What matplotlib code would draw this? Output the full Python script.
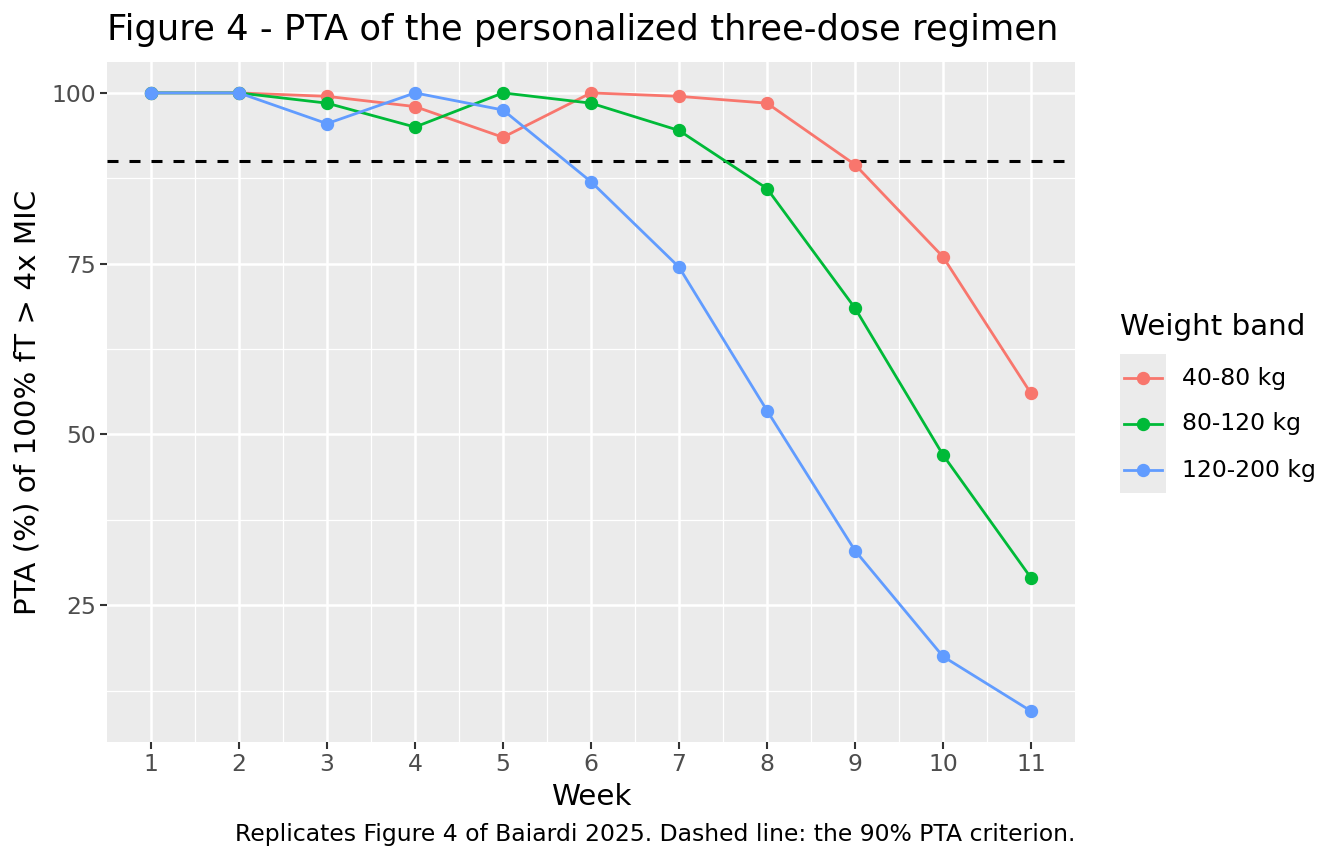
import matplotlib
matplotlib.use("Agg")
import matplotlib.pyplot as plt
from matplotlib.lines import Line2D
from matplotlib.patches import Rectangle
from matplotlib.ticker import MultipleLocator, FixedLocator

weeks = [1, 2, 3, 4, 5, 6, 7, 8, 9, 10, 11]
bands = ["40-80 kg", "80-120 kg", "120-200 kg"]
pta_40_80 = [100, 100, 99.5, 98, 93.5, 100, 99.5, 98.5, 89.5, 76, 56]
pta_80_120 = [100, 100, 98.5, 95, 100, 98.5, 94.5, 86, 68.5, 47, 29]
pta_120_200 = [100, 100, 95.5, 100, 97.5, 87, 74.5, 53.5, 33, 17.5, 9.5]
criterion = 90

COLORS = ["#F8766D", "#00BA38", "#619CFF"]
PANEL = "#EBEBEB"
S = 1.92  # ggplot pt -> matplotlib pt at this size
W, H = 1344, 864


def fx(px):
    return px / W


def fy(py):
    return 1 - py / H


fig = plt.figure(figsize=(W / 100, H / 100), dpi=100)
ax = fig.add_axes([fx(107), fy(742), fx(1075 - 107), (742 - 62) / H])
ax.set_facecolor(PANEL)
for sp in ax.spines.values():
    sp.set_visible(False)

ax.set_xlim(0.5, 11.5)
ax.set_ylim(4.975, 104.525)
ax.xaxis.set_major_locator(MultipleLocator(1))
ax.xaxis.set_minor_locator(FixedLocator([w + 0.5 for w in weeks[:-1]]))
ax.yaxis.set_major_locator(FixedLocator([25, 50, 75, 100]))
ax.yaxis.set_minor_locator(FixedLocator([12.5, 37.5, 62.5, 87.5]))
ax.grid(which="major", color="white", linewidth=1.8)
ax.grid(which="minor", color="white", linewidth=0.9)
ax.set_axisbelow(True)
ax.tick_params(which="major", length=5, width=1.5, color="#333333",
               labelsize=8.8 * S, labelcolor="#4D4D4D", pad=3)
ax.tick_params(which="minor", length=0)

series = [pta_40_80, pta_80_120, pta_120_200]
for vals, col in zip(series, COLORS):
    ax.plot(weeks, vals, color=col, linewidth=2.0, marker="o", markersize=8.6,
            zorder=3)

ax.axhline(criterion, color="black", linestyle=(0, (3.6, 3.6)), linewidth=2.2,
           zorder=2)

fig.text(fx(591), fy(797), "Week", ha="center", va="center", fontsize=11 * S)
fig.text(fx(28), fy(402), "PTA (%) of 100% fT > 4x MIC", ha="center",
         va="center", rotation=90, fontsize=11 * S)
fig.text(fx(107), fy(30), "Figure 4 - PTA of the personalized three-dose regimen",
         ha="left", va="center", fontsize=13.2 * S)

# legend, laid out like the ggplot guide
fig.text(fx(1120), fy(327), "Weight band", ha="left", va="center",
         fontsize=11 * S)
fig.patches.append(Rectangle((fx(1120), fy(493)), fx(46), (493 - 354) / H,
                             transform=fig.transFigure, facecolor=PANEL,
                             edgecolor="none", zorder=0))
for i, (col, lab) in enumerate(zip(COLORS, bands)):
    yk = fy(378 + 46 * i)
    fig.add_artist(Line2D([fx(1124), fx(1162)], [yk, yk], color=col,
                          linewidth=2.0, transform=fig.transFigure))
    fig.add_artist(Line2D([fx(1143)], [yk], color=col, marker="o",
                          markersize=8.6, transform=fig.transFigure))
    fig.text(fx(1182), yk, lab, ha="left", va="center", fontsize=8.8 * S)

fig.text(fx(1075), fy(835),
         "Replicates Figure 4 of Baiardi 2025. Dashed line: the 90% PTA criterion.",
         ha="right", va="center", fontsize=8.8 * S)

fig.savefig("out.png", dpi=100, facecolor="white")
